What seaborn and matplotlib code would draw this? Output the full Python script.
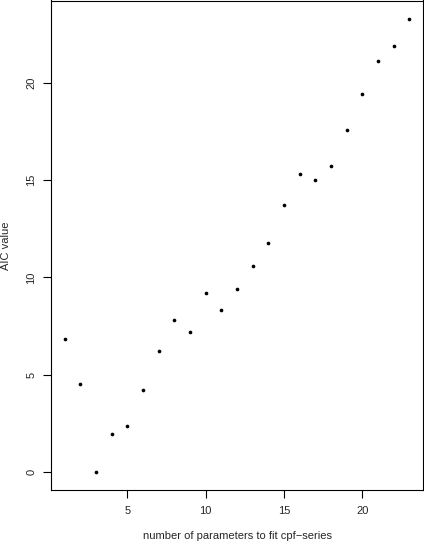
import matplotlib
matplotlib.use("Agg")
import matplotlib.pyplot as plt
import seaborn as sns
import pandas as pd

# number of parameters and the AIC value
n_params = list(range(1, 24))
aic = [6.85, 4.54, 0.0, 1.97, 2.38, 4.23, 6.19, 7.83, 7.21, 9.17, 8.34, 9.39,
       10.56, 11.79, 13.74, 15.29, 14.98, 15.70, 17.55, 19.44, 21.14, 21.91, 23.30]
x_ticks = [5, 10, 15, 20]
y_ticks = [0, 5, 10, 15, 20]

df = pd.DataFrame({"n": n_params, "aic": aic})

sns.set_style("ticks")
plt.rcParams["font.family"] = ["Liberation Sans", "DejaVu Sans"]

fig = plt.figure(figsize=(4.24, 5.44), dpi=100)
ax = fig.add_axes([51 / 424, 54 / 544, 372 / 424, 489.5 / 544])

sns.scatterplot(data=df, x="n", y="aic", ax=ax, color="black", s=7,
                linewidth=0, marker="o")

# R-like 4% axis extension
xr = max(n_params) - min(n_params)
yr = max(aic) - min(aic)
ax.set_xlim(min(n_params) - 0.04 * xr, max(n_params) + 0.04 * xr)
ax.set_ylim(min(aic) - 0.04 * yr, max(aic) + 0.04 * yr)

ax.set_xticks(x_ticks)
ax.set_yticks(y_ticks)
ax.tick_params(axis="both", direction="out", length=5.5, width=0.8,
               labelsize=8, color="black")
ax.tick_params(axis="x", pad=6)
ax.tick_params(axis="y", pad=5)
for lab in ax.get_yticklabels():
    lab.set_rotation(90)
    lab.set_va("center")

for sp in ax.spines.values():
    sp.set_visible(True)
    sp.set_linewidth(0.8)
    sp.set_color("black")

ax.set_xlabel("number of parameters to fit cpf\u2212series", fontsize=8, labelpad=11)
ax.set_ylabel("AIC value", fontsize=8, labelpad=11)

fig.savefig("out.png", dpi=100)
